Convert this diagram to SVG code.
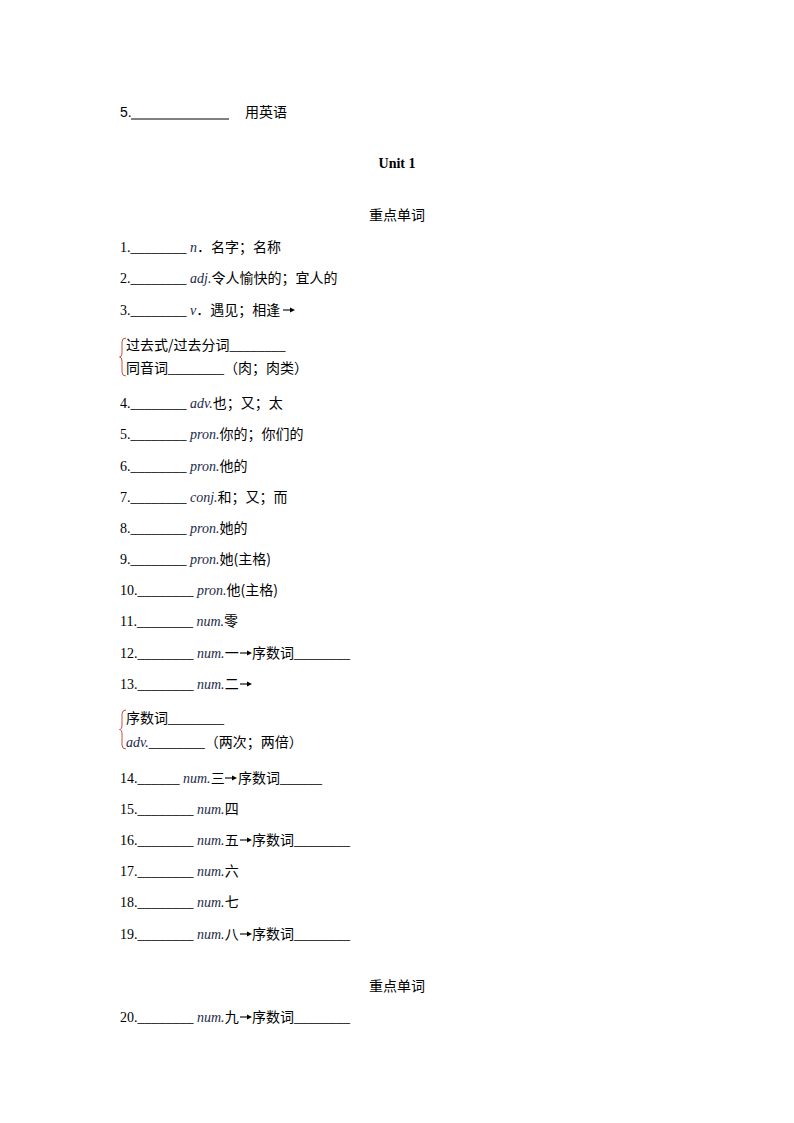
<svg xmlns="http://www.w3.org/2000/svg" width="794" height="1123" viewBox="0 0 794 1123">
<style>
text{font-family:"Liberation Serif","Noto Sans CJK SC",serif;font-size:14px;fill:#000}
.c{font-family:"Noto Sans CJK SC","Liberation Sans",sans-serif}
.i{font-style:italic;fill:#1c2a48}
.s{font-family:"Liberation Sans","Noto Sans CJK SC",sans-serif}
.b{font-weight:bold}
.br{fill:none;stroke:#c8503f;stroke-width:1}
</style>
<defs>
<g id="arr"><path d="M0,0 H8" stroke="#000" stroke-width="1.1"/><path d="M7,-2.6 L12,0 L7,2.6 Z" fill="#000"/></g>
</defs>
<rect width="794" height="1123" fill="#fff"/>
<g id="top">
<text x="120" y="117" class="s">5.</text>
<line x1="131" y1="119" x2="229" y2="119" stroke="#000" stroke-width="1"/>
<text x="245" y="117" class="c">用英语</text>
<text x="397" y="168" text-anchor="middle" class="b">Unit 1</text>
<text x="397" y="220" text-anchor="middle" class="c">重点单词</text>
</g>
<g id="items">
<text x="120" y="252">1.________ <tspan class="i">n</tspan><tspan class="c">．名字；名称</tspan></text>
<text x="120" y="283">2.________ <tspan class="i">adj.</tspan><tspan class="c">令人愉快的；宜人的</tspan></text>
<text x="120" y="315">3.________ <tspan class="i">v</tspan><tspan class="c">．遇见；相逢</tspan></text>
<use href="#arr" x="283" y="310"/>
<path class="br" d="M126,338 Q122,338 122,342 L122,353 Q122,357 119.5,357 Q122,357 122,361 L122,372 Q122,376 126,376"/>
<text x="126" y="350"><tspan class="c">过去式/过去分词</tspan>________</text>
<text x="126" y="373"><tspan class="c">同音词</tspan>________<tspan class="c">（肉；肉类）</tspan></text>
<text x="120" y="408">4.________ <tspan class="i">adv.</tspan><tspan class="c">也；又；太</tspan></text>
<text x="120" y="439">5.________ <tspan class="i">pron.</tspan><tspan class="c">你的；你们的</tspan></text>
<text x="120" y="471">6.________ <tspan class="i">pron.</tspan><tspan class="c">他的</tspan></text>
<text x="120" y="502">7.________ <tspan class="i">conj.</tspan><tspan class="c">和；又；而</tspan></text>
<text x="120" y="533">8.________ <tspan class="i">pron.</tspan><tspan class="c">她的</tspan></text>
<text x="120" y="564">9.________ <tspan class="i">pron.</tspan><tspan class="c">她(主格)</tspan></text>
<text x="120" y="595">10.________ <tspan class="i">pron.</tspan><tspan class="c">他(主格)</tspan></text>
<text x="120" y="626">11.________ <tspan class="i">num.</tspan><tspan class="c">零</tspan></text>
<text x="120" y="658">12.________ <tspan class="i">num.</tspan><tspan class="c">一</tspan></text>
<use href="#arr" x="240" y="653"/>
<text x="252" y="658"><tspan class="c">序数词</tspan>________</text>
<text x="120" y="689">13.________ <tspan class="i">num.</tspan><tspan class="c">二</tspan></text>
<use href="#arr" x="240" y="684"/>
<path class="br" d="M126,710 Q122,710 122,714 L122,725 Q122,729.5 119.5,729.5 Q122,729.5 122,734 L122,745 Q122,749 126,749"/>
<text x="126" y="723"><tspan class="c">序数词</tspan>________</text>
<text x="126" y="747"><tspan class="i">adv.</tspan>________<tspan class="c">（两次；两倍）</tspan></text>
<text x="120" y="783">14.______ <tspan class="i">num.</tspan><tspan class="c">三</tspan></text>
<use href="#arr" x="225" y="778"/>
<text x="238" y="783"><tspan class="c">序数词</tspan>______</text>
<text x="120" y="814">15.________ <tspan class="i">num.</tspan><tspan class="c">四</tspan></text>
<text x="120" y="845">16.________ <tspan class="i">num.</tspan><tspan class="c">五</tspan></text>
<use href="#arr" x="240" y="840"/>
<text x="252" y="845"><tspan class="c">序数词</tspan>________</text>
<text x="120" y="876">17.________ <tspan class="i">num.</tspan><tspan class="c">六</tspan></text>
<text x="120" y="907">18.________ <tspan class="i">num.</tspan><tspan class="c">七</tspan></text>
<text x="120" y="939">19.________ <tspan class="i">num.</tspan><tspan class="c">八</tspan></text>
<use href="#arr" x="240" y="934"/>
<text x="252" y="939"><tspan class="c">序数词</tspan>________</text>
<text x="397" y="991" text-anchor="middle" class="c">重点单词</text>
<text x="120" y="1022">20.________ <tspan class="i">num.</tspan><tspan class="c">九</tspan></text>
<use href="#arr" x="240" y="1017"/>
<text x="252" y="1022"><tspan class="c">序数词</tspan>________</text>
</g>
</svg>
